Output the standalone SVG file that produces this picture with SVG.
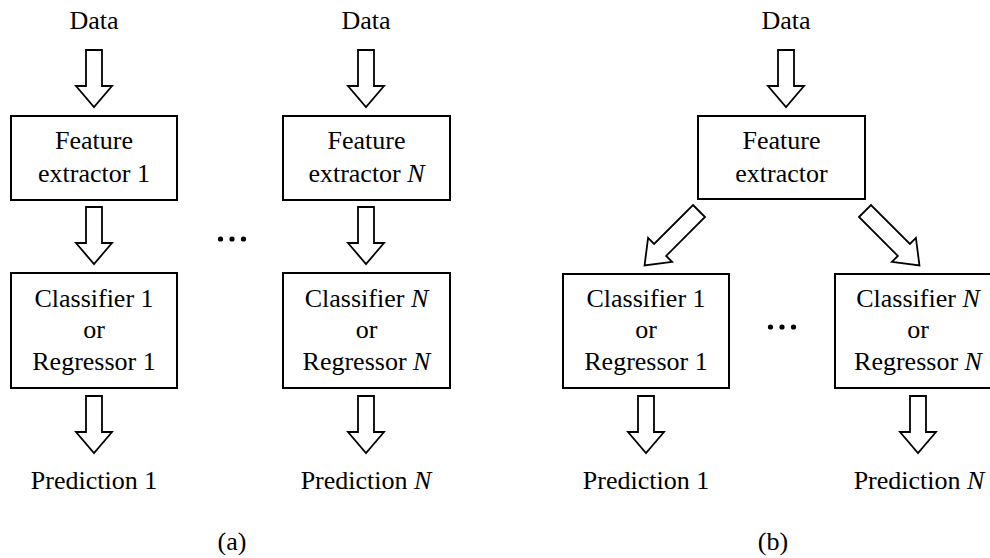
<svg xmlns="http://www.w3.org/2000/svg" xmlns:xlink="http://www.w3.org/1999/xlink" width="990" height="558" viewBox="0 0 990 558">
<style>
text{font-family:'Liberation Serif','DejaVu Serif',serif;font-size:26px;fill:#000;text-anchor:middle}
.box{fill:#fff;stroke:#000;stroke-width:2}
.arr{fill:#fff;stroke:#000;stroke-width:1.8;stroke-linejoin:miter}
.it{font-style:italic}
</style>
<defs>
<path id="va" d="M-8,0 H8 V36 H18 L0,57 L-18,36 H-8 Z"/>
<path id="da" d="M-8.5,0 H8.5 V55 H17 L0,77 L-17,55 H-8.5 Z"/>
</defs>
<rect width="990" height="558" fill="#fff"/>
<g id="connectors">
<use xlink:href="#va" class="arr" transform="translate(94,50)"/>
<use xlink:href="#va" class="arr" transform="translate(94,207)"/>
<use xlink:href="#va" class="arr" transform="translate(94,396)"/>
<use xlink:href="#va" class="arr" transform="translate(366,50)"/>
<use xlink:href="#va" class="arr" transform="translate(366,207)"/>
<use xlink:href="#va" class="arr" transform="translate(366,396)"/>
<use xlink:href="#va" class="arr" transform="translate(786,50)"/>
<use xlink:href="#da" class="arr" transform="translate(699,211) rotate(45)"/>
<use xlink:href="#da" class="arr" transform="translate(865,211) rotate(-45)"/>
<use xlink:href="#va" class="arr" transform="translate(646,396)"/>
<use xlink:href="#va" class="arr" transform="translate(918,396)"/>
</g>
<g font-family="Liberation Serif, DejaVu Serif, serif">
<g id="a-data1"><text x="94" y="29">Data</text></g>
<g id="a-data2"><text x="366" y="29">Data</text></g>
<g id="a-fe1"><rect class="box" x="11" y="116" width="166" height="84"/><text x="94" y="149">Feature</text><text x="94" y="182">extractor 1</text></g>
<g id="a-feN"><rect class="box" x="283" y="116" width="167" height="84"/><text x="366.5" y="149">Feature</text><text x="366.5" y="182">extractor <tspan class="it">N</tspan></text></g>
<g id="a-dots"><circle cx="220.5" cy="239" r="2.6"/><circle cx="232" cy="239" r="2.6"/><circle cx="243.5" cy="239" r="2.6"/></g>
<g id="a-c1"><rect class="box" x="11" y="273" width="166" height="115"/><text x="94" y="307">Classifier 1</text><text x="94" y="338">or</text><text x="94" y="370">Regressor 1</text></g>
<g id="a-cN"><rect class="box" x="283" y="273" width="167" height="115"/><text x="366.5" y="307">Classifier <tspan class="it">N</tspan></text><text x="366.5" y="338">or</text><text x="366.5" y="370">Regressor <tspan class="it">N</tspan></text></g>
<g id="a-p1"><text x="94" y="489">Prediction 1</text></g>
<g id="a-pN"><text x="366" y="489">Prediction <tspan class="it">N</tspan></text></g>
<g id="a-label"><text x="232" y="550">(a)</text></g>
<g id="b-data"><text x="786" y="29">Data</text></g>
<g id="b-fe"><rect class="box" x="698" y="116" width="167" height="83"/><text x="781.5" y="149">Feature</text><text x="781.5" y="182">extractor</text></g>
<g id="b-c1"><rect class="box" x="563" y="274" width="166" height="114"/><text x="646" y="307">Classifier 1</text><text x="646" y="338">or</text><text x="646" y="370">Regressor 1</text></g>
<g id="b-dots"><circle cx="770.5" cy="327" r="2.6"/><circle cx="782" cy="327" r="2.6"/><circle cx="793.5" cy="327" r="2.6"/></g>
<g id="b-cN"><rect class="box" x="835" y="274" width="166" height="114"/><text x="918" y="307">Classifier <tspan class="it">N</tspan></text><text x="918" y="338">or</text><text x="918" y="370">Regressor <tspan class="it">N</tspan></text></g>
<g id="b-p1"><text x="646" y="489">Prediction 1</text></g>
<g id="b-pN"><text x="919" y="489">Prediction <tspan class="it">N</tspan></text></g>
<g id="b-label"><text x="773" y="550">(b)</text></g>
</g>
</svg>
